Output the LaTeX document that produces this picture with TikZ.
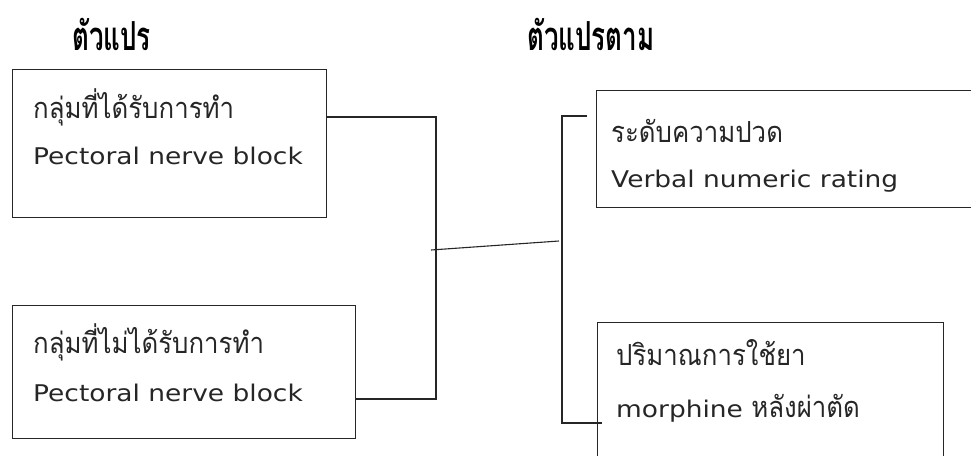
\documentclass[tikz,border=0pt]{standalone}
\usepackage{fontspec}
\setmainfont[FakeStretch=1.15]{DejaVu Sans}
\newfontfamily\thaifont[Script=Thai,FakeStretch=0.89]{Loma}
\newfontfamily\thaihead[Script=Thai,FakeStretch=0.65]{Loma}
\begin{document}
\begin{tikzpicture}[x=1pt,y=-1pt,
  box/.style={draw=black!85,line width=1.1pt,inner sep=0pt,anchor=north west},
  conn/.style={draw=black!85,line width=1.1pt},
  thai/.style={anchor=base west,inner sep=0pt,text=black!85,font=\fontsize{29}{32}\thaifont},
  latin/.style={anchor=base west,inner sep=0pt,text=black!85,font=\fontsize{23}{26}\selectfont},
  head/.style={anchor=base west,inner sep=0pt,font=\fontsize{40}{44}\thaihead\bfseries}]
\useasboundingbox (0,0) rectangle (971,455);
\clip (0,0) rectangle (971,455);
% headings
\node[head] (h1) at (72,50) {ตัวแปร};
\node[head] (h2) at (527,50) {ตัวแปรตาม};
% boxes
\node[box,minimum width=314pt,minimum height=148pt] (b1) at (12,69) {};
\node[box,minimum width=343pt,minimum height=133pt] (b2) at (12,305) {};
\node[box,minimum width=400pt,minimum height=117pt] (r1) at (596,90) {};
\node[box,minimum width=346pt,minimum height=160pt] (r2) at (597,322) {};
% texts
\node[thai] (t1) at (33,118) {กลุ่มที่ได้รับการทำ};
\node[latin] (l1) at (33,164) {Pectoral nerve block};
\node[thai] (t2) at (33,353) {กลุ่มที่ไม่ได้รับการทำ};
\node[latin] (l2) at (33,401) {Pectoral nerve block};
\node[thai] (t3) at (611,142) {ระดับความปวด};
\node[latin] (l3) at (611,187) {Verbal numeric rating};
\node[thai] (t4) at (616,365) {ปริมาณการใช้ยา};
\node[latin] (l4) at (616,417) {morphine {\fontsize{29}{32}\thaifont หลังผ่าตัด}};
% connectors
\coordinate (j1) at (436,117);
\coordinate (j2) at (436,399);
\coordinate (k1) at (562,116);
\coordinate (k2) at (562,423);
\coordinate (k1e) at (587,116);
\coordinate (k2e) at (602,423);
\coordinate (d1) at (431,250);
\coordinate (d2) at (559,241);
\draw[conn] (b1.north east |- j1) -- (j1) -- (j2) -- (b2.north east |- j2);
\draw[conn] (k1e) -- (k1) -- (k2) -- (k2e);
\draw[conn] (d1) -- (d2);
\end{tikzpicture}
\end{document}
